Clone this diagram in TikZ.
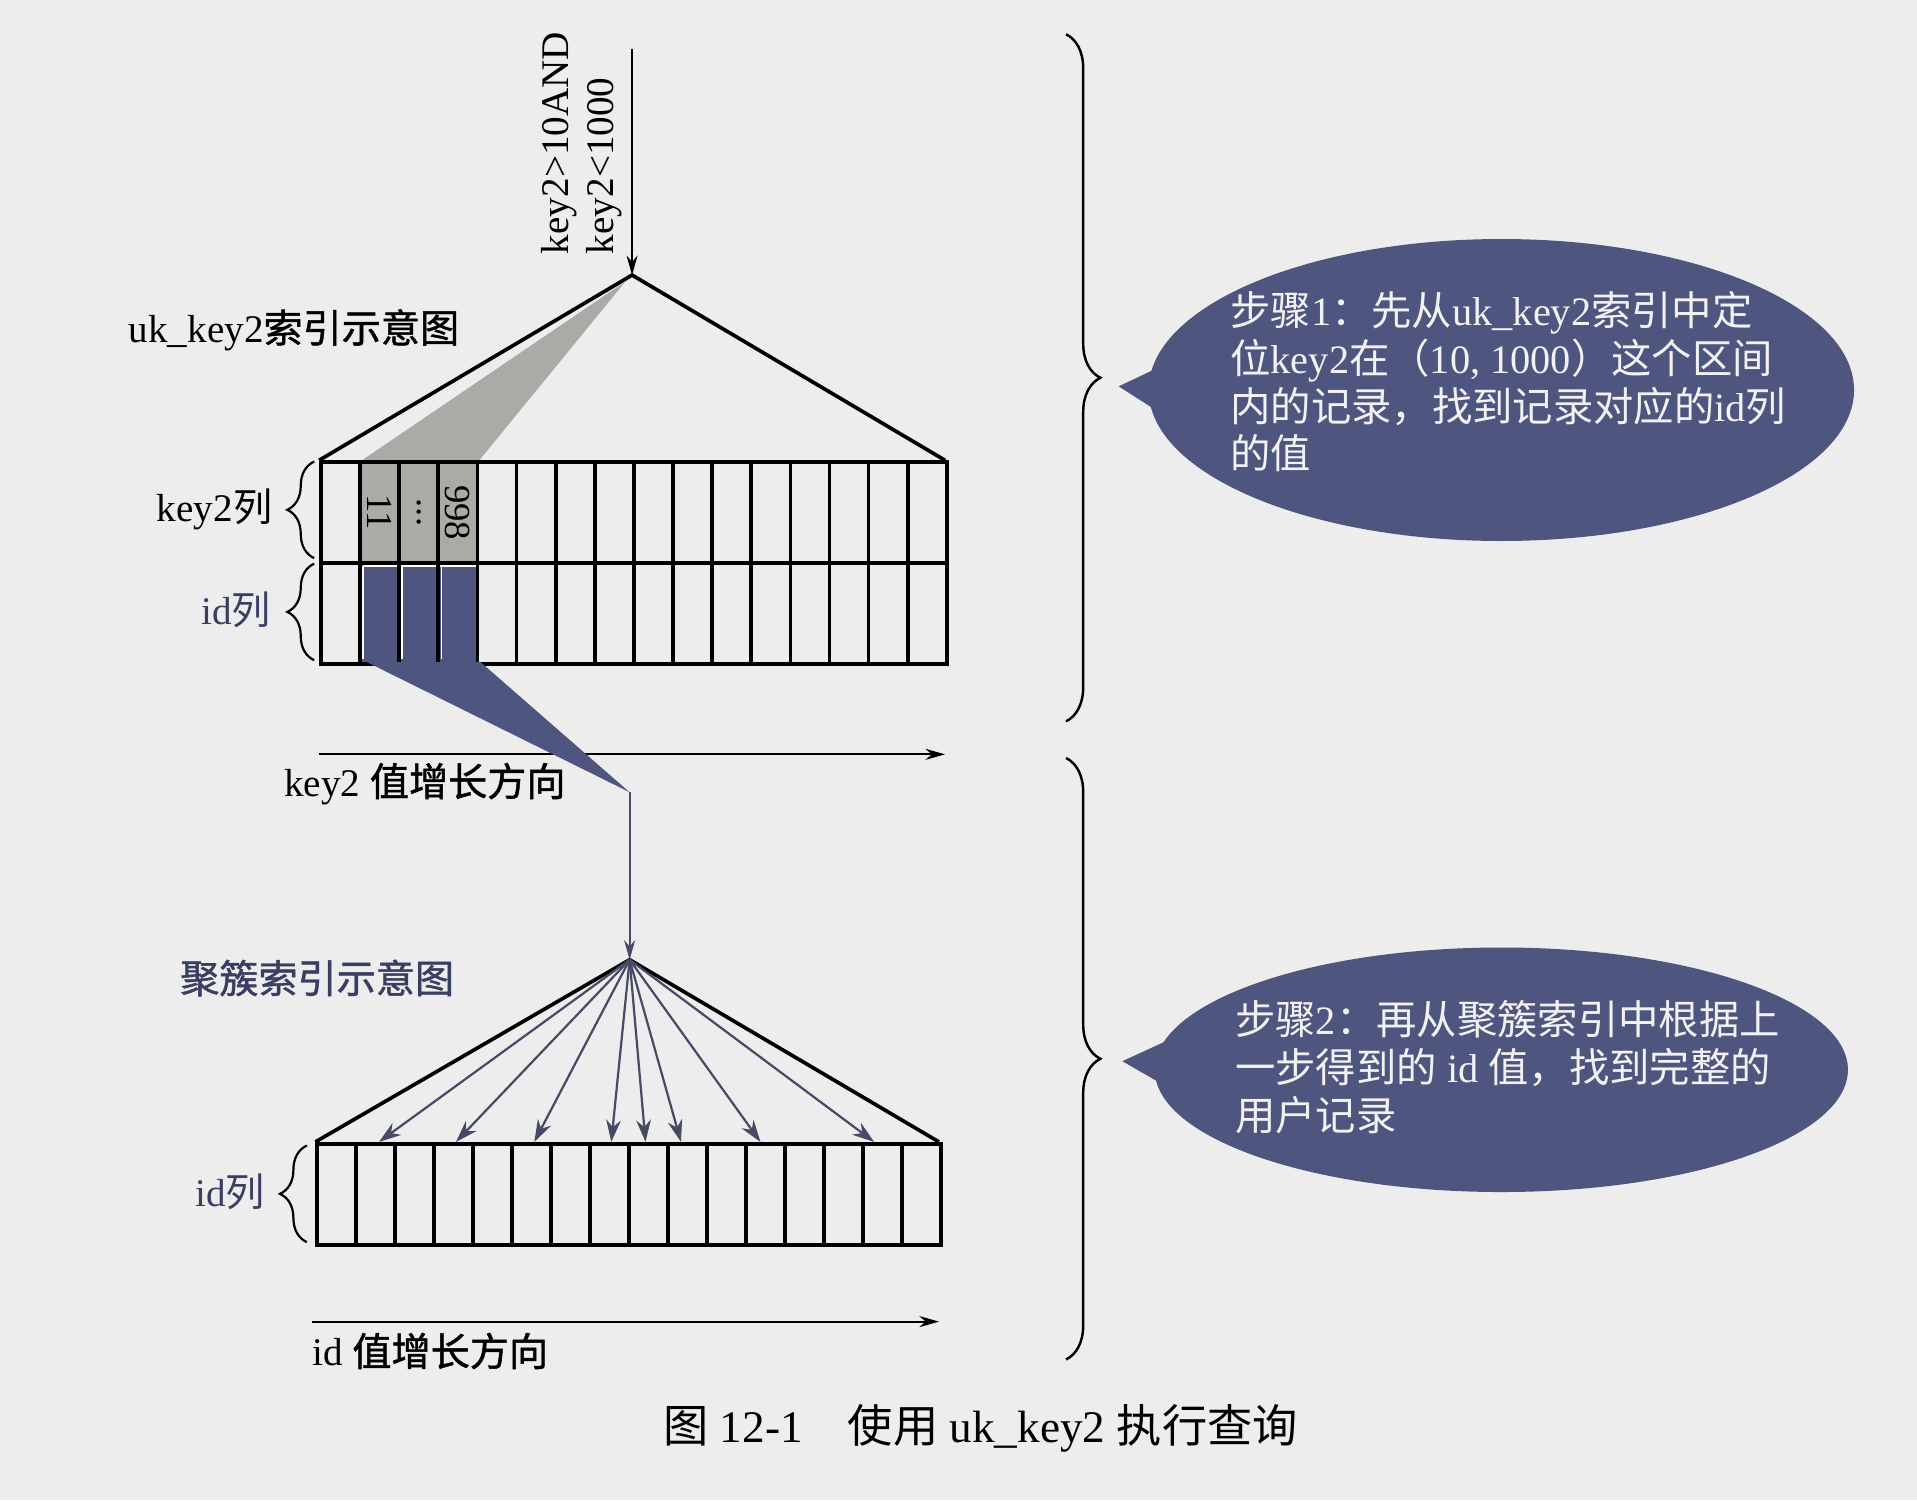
\documentclass[tikz,border=0pt]{standalone}
\usepackage{fontspec}
\setmainfont{Liberation Serif}
\newfontfamily\cjk{Noto Sans CJK SC}
\newfontfamily\cjkb[FakeBold=1.2]{Noto Sans CJK SC}
\newcommand\zh[1]{{\cjk #1}}
\newcommand\zhb[1]{{\cjkb #1}}
\usetikzlibrary{arrows.meta,decorations.pathreplacing,shapes.geometric,calc}
\definecolor{paper}{RGB}{237,237,238}
\definecolor{slate}{RGB}{78,86,128}
\definecolor{wgray}{RGB}{170,170,166}
\definecolor{lblue}{RGB}{58,63,98}
\definecolor{fancol}{RGB}{70,74,100}
\definecolor{bubtext}{RGB}{242,242,244}
\tikzset{
  cellbox/.style={draw=black, line width=1.5pt, minimum width=16pt, minimum height=41.25pt, inner sep=0pt, anchor=north west},
  cellboxlow/.style={draw=black, line width=1.5pt, minimum width=15.95pt, minimum height=41.5pt, inner sep=0pt, anchor=north west},
  heavy/.style={line width=1.5pt, line join=miter},
  myarrow/.style={-{Stealth[length=8pt,width=4.5pt]}, line width=0.8pt},
  fanarrow/.style={-{Stealth[length=9pt,width=6pt]}, line width=0.9pt, draw=fancol, fill=fancol},
  lab/.style={font=\fontsize{16pt}{19pt}\selectfont, inner sep=0pt},
  celltxt/.style={rotate=-90, inner sep=0pt, font=\fontsize{15pt}{17pt}\selectfont},
  bubtxt/.style={font=\fontsize{16.5pt}{19.5pt}\selectfont, text=bubtext, align=left, inner sep=0pt},
  smallbrace/.style={decorate, decoration={brace, amplitude=11pt}, line width=0.9pt},
  bigbrace/.style={decorate, decoration={brace, amplitude=14pt}, line width=1pt},
  bubble/.style={ellipse, fill=slate, inner sep=0pt},
}
\begin{document}
\begin{tikzpicture}[x=0.5pt,y=-0.5pt]
\useasboundingbox[fill=paper] (0,0) rectangle (1568,1227);

% ---------- upper index ----------
\coordinate (qtop) at (517,40);
\coordinate (apex1) at (517,225);
\coordinate (bl1) at (261,376.5);
\coordinate (br1) at (773,376.5);

\node[rotate=90, align=left, inner sep=0pt, font=\fontsize{16pt}{18.5pt}\selectfont] (query) at (476,117) {key2>10AND\\key2<1000};
\node[lab, anchor=west] (title1) at (105,270) {uk\_key2\zhb{索引示意图}};

% gray wedge
\fill[wgray] (503,236) -- (511,231) -- (392,376.5) -- (296,376.5) -- cycle;
\draw[heavy] (bl1) -- (apex1) -- (br1);
\draw[myarrow] (qtop) -- (apex1);

% highlighted cells
\fill[wgray] (293,376.5) rectangle (389,459);
\fill[slate] (293,459) rectangle (389,541.5);
\draw[white, line width=0.7pt] (297,463) -- (389,463);
\foreach \xx in {297,329,361} \draw[white, line width=0.7pt] (\xx,463) -- (\xx,539);

\foreach \i in {0,...,15} {
  \node[cellbox] (k\i) at ({261+32*\i},376.5) {};
  \node[cellbox] (d\i) at ({261+32*\i},459) {};
}
\node[celltxt] (n11) at (k1.center) {11};
\node[celltxt] (ndots) at (k2.center) {...};
\node[celltxt] (n998) at (k3.center) {998};

% left braces and labels
\draw[smallbrace] (257,456.5) -- (257,377.5);
\draw[smallbrace] (257,540) -- (257,461);
\node[lab, anchor=east] (lkey) at (223,417) {key2\zh{列}};
\node[lab, anchor=east, text=lblue] (lid) at (222,499) {id\zh{列}};

% key2 direction arrow
\coordinate (ka) at (261,617);
\coordinate (kb) at (773,617);
\draw[myarrow] (ka) -- (kb);
\node[lab, anchor=west] (kdir) at (232,641) {key2 \zhb{值增长方向}};

% slate wedge down to clustered index
\coordinate (wtip) at (515,648);
\fill[slate] (300,541.5) -- (393,541.5) -- (wtip) -- cycle;
\coordinate (apex2) at (515,785);
\draw[myarrow, draw=fancol] (wtip) -- (apex2);

% ---------- lower clustered index ----------
\node[lab, anchor=west, text=lblue] (title2) at (147,800) {\zhb{聚簇索引示意图}};
\coordinate (bl2) at (258,934);
\coordinate (br2) at (768,934);
\draw[heavy] (bl2) -- (apex2) -- (br2);
\foreach \i in {0,...,15} {
  \node[cellboxlow] (c\i) at ({258+31.875*\i},934) {};
}
\foreach \xx [count=\j] in {310,373,437,500,528,557,622,715} {
  \coordinate (t\j) at (\xx,934);
  \draw[fanarrow] (apex2) -- (t\j);
}
\draw[smallbrace] (251,1016) -- (251,937);
\node[lab, anchor=east, text=lblue] (lid2) at (217,975) {id\zh{列}};

\coordinate (ia) at (255,1081);
\coordinate (ib) at (768,1081);
\draw[myarrow] (ia) -- (ib);
\node[lab, anchor=west] (idir) at (255,1105) {id \zhb{值增长方向}};

% ---------- right braces ----------
\draw[bigbrace] (872,28) -- (872,590);
\draw[bigbrace] (872,620) -- (872,1112);

% ---------- bubbles ----------
\node[bubble, minimum width=288.5pt, minimum height=123.5pt] (b1) at (1228,319) {};
\coordinate (tail1) at (915,316);
\fill[slate] (tail1) -- (970,290) -- (965,348) -- cycle;
\node[bubtxt, anchor=north west] (s1) at (1006,238) {\zh{步骤}1\zh{：先从}uk\_key2\zh{索引中定}\\\zh{位}key2\zh{在（}10, 1000\zh{）这个区间}\\\zh{内的记录，找到记录对应的}id\zh{列}\\\zh{的值}};

\node[bubble, minimum width=283.5pt, minimum height=100pt] (b2) at (1228,875) {};
\coordinate (tail2) at (918,868);
\fill[slate] (tail2) -- (968,845) -- (965,895) -- cycle;
\node[bubtxt, anchor=north west] (s2) at (1010,818) {\zh{步骤}2\zh{：再从聚簇索引中根据上}\\\zh{一步得到的} id \zh{值，找到完整的}\\\zh{用户记录}};

% ---------- caption ----------
\node[inner sep=0pt, font=\fontsize{18.5pt}{21pt}\selectfont] (cap) at (802,1168) {\zh{图} 12-1\zh{　使用} uk\_key2 \zh{执行查询}};
\end{tikzpicture}
\end{document}
